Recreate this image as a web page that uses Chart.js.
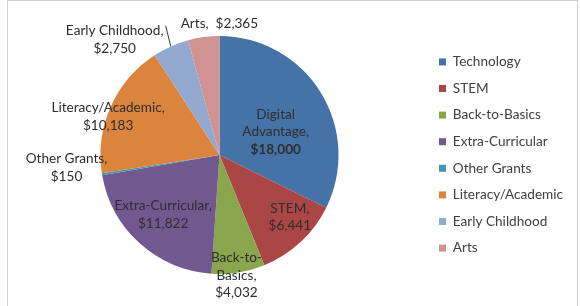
<!DOCTYPE html>
<html>
<head>
<meta charset="utf-8">
<script src="https://cdn.jsdelivr.net/npm/chart.js@4.4.0/dist/chart.umd.min.js"></script>
<style>
  body { margin: 0; background: #fff; }
  #wrap { position: relative; width: 580px; height: 306px; overflow: hidden; }
  #frame { position: absolute; left: 7px; top: 0; width: 569px; height: 320px; border: 1px solid #d0d0d0; }
  canvas { position: absolute; left: 0; top: 0; }
</style>
</head>
<body>
<div id="wrap">
  <div id="frame"></div>
  <canvas id="grantChart" width="580" height="306"></canvas>
</div>
<script>
// Legend categories and slice values
const categories = ['Technology', 'STEM', 'Back-to-Basics', 'Extra-Curricular', 'Other Grants', 'Literacy/Academic', 'Early Childhood', 'Arts'];
const amounts = [18000, 6441, 4032, 11822, 150, 10183, 2750, 2365];
// Names shown on the slices (split into lines)
const sliceNames = [['Digital', 'Advantage'], ['STEM'], ['Back-to-', 'Basics'], ['Extra-Curricular'], ['Other Grants'], ['Literacy/Academic'], ['Early Childhood'], ['Arts']];
const colors = ['#4572A7', '#AA4643', '#89A54E', '#71588F', '#4198AF', '#DB843D', '#93A9CF', '#D19392'];

// Where each data label sits: radius fraction and angle shift (deg) from slice middle
const labelPlace = [
    { r: 0.51, da: 9.6, bold: true },
    { r: 0.79, da: -5.5 },
    { r: 1.02, da: 1.1 },
    { r: 0.69, da: 1.3 },
    { r: 1.29, da: 4.6 },
    { r: 0.99, da: -5.1 },
    { r: 1.31, da: -18.1, leader: true },
    { r: 1.10, da: 7.6, inline: true }
];

const money = v => '$' + v.toLocaleString('en-US');

// Draws the slice labels (Excel style data labels)
const sliceLabelPlugin = {
    id: 'sliceLabels',
    afterDatasetsDraw(chart) {
        const ctx = chart.ctx;
        const arcs = chart.getDatasetMeta(0).data;
        ctx.save();
        ctx.textAlign = 'center';
        ctx.textBaseline = 'middle';
        ctx.fillStyle = '#2e2e2e';
        arcs.forEach((arc, i) => {
            const place = labelPlace[i];
            const mid = (arc.startAngle + arc.endAngle) / 2;
            const ang = mid + place.da * Math.PI / 180;
            const dist = arc.outerRadius * place.r;
            const cx = arc.x + Math.cos(ang) * dist;
            const cy = arc.y + Math.sin(ang) * dist;

            let lines;
            if (place.inline) {
                lines = [sliceNames[i].join('') + ',  ' + money(amounts[i])];
            } else {
                lines = sliceNames[i].slice();
                lines[lines.length - 1] += ',';
                lines.push(money(amounts[i]));
            }
            const lh = 17.5;
            const top = cy - (lines.length - 1) * lh / 2;
            lines.forEach((txt, k) => {
                const isValue = k === lines.length - 1 && !place.inline;
                ctx.font = (place.bold && isValue ? 'bold ' : '') + '13.6px Lato';
                ctx.fillText(txt, cx, top + k * lh);
            });

            if (place.leader) {
                ctx.strokeStyle = '#333';
                ctx.lineWidth = 1;
                ctx.beginPath();
                ctx.moveTo(arc.x + Math.cos(mid) * arc.outerRadius, arc.y + Math.sin(mid) * arc.outerRadius);
                ctx.lineTo(cx + 51, top - 5);
                ctx.stroke();
            }
        });
        ctx.restore();
    }
};

const initGrantChart = () => {
    const ctx = document.getElementById('grantChart').getContext('2d');
    return new Chart(ctx, {
        type: 'pie',
        data: {
            labels: categories,
            datasets: [{
                data: amounts,
                backgroundColor: colors,
                borderWidth: 0
            }]
        },
        options: {
            responsive: false,
            animation: false,
            events: [],
            layout: {
                padding: { left: 13, right: 7, top: 36, bottom: 32 }
            },
            plugins: {
                legend: {
                    position: 'right',
                    labels: {
                        boxWidth: 7,
                        boxHeight: 7,
                        padding: 13,
                        color: '#404040',
                        font: { family: 'Lato', size: 13.6 }
                    }
                },
                tooltip: { enabled: false }
            }
        },
        plugins: [sliceLabelPlugin]
    });
};

document.addEventListener('DOMContentLoaded', () => {
    initGrantChart();
});
</script>
</body>
</html>
